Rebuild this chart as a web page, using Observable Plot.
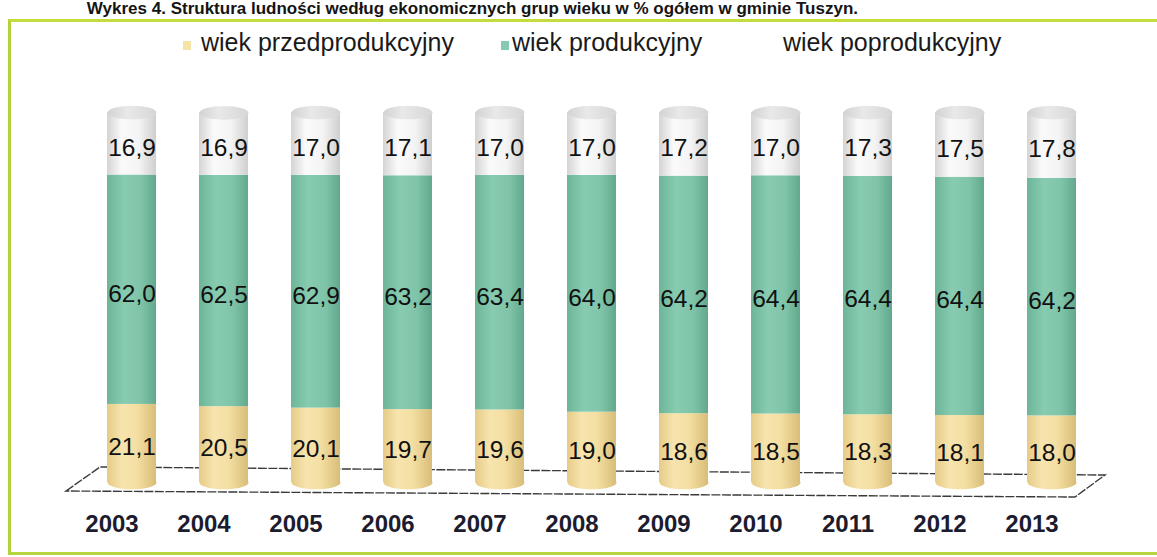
<!DOCTYPE html>
<html>
<head>
<meta charset="utf-8">
<script src="https://cdn.jsdelivr.net/npm/d3@7"></script>
<script src="https://cdn.jsdelivr.net/npm/@observablehq/plot@0.6"></script>
<style>
  html, body { margin: 0; padding: 0; background: #fff; }
  #page { position: relative; width: 1157px; height: 557px; overflow: hidden; background: #fff;
          font-family: "Liberation Sans", Arial, sans-serif; }
  #title { position: absolute; right: 299px; top: 0px; white-space: nowrap; font-size: 17px; line-height: 17px;
           font-weight: bold; color: #151515; }
  #frame { position: absolute; left: 8px; top: 19px; width: 1170px; height: 530px;
           border-left: 3px solid #b2d23a; border-top: 3px solid #c4dc3c; border-bottom: 3px solid #b6d640; }
  .leg { position: absolute; top: 30px; font-size: 25px; line-height: 25px; color: #1a1a1a; white-space: nowrap; }
  .sw { position: absolute; top: 41px; width: 8px; height: 9px; }
  #chart { position: absolute; left: 0; top: 70px; }
</style>
</head>
<body>
<div id="page">
  <div id="title"></div>
  <div id="frame"></div>
  <div id="legend"></div>
  <div id="chart"></div>
</div>
<script>
// ---- data ----
const years = ["2003","2004","2005","2006","2007","2008","2009","2010","2011","2012","2013"];
const groups = ["wiek przedprodukcyjny", "wiek produkcyjny", "wiek poprodukcyjny"];
const przedprodukcyjny = [21.1, 20.5, 20.1, 19.7, 19.6, 19.0, 18.6, 18.5, 18.3, 18.1, 18.0];
const produkcyjny      = [62.0, 62.5, 62.9, 63.2, 63.4, 64.0, 64.2, 64.4, 64.4, 64.4, 64.2];
const poprodukcyjny    = [16.9, 16.9, 17.0, 17.1, 17.0, 17.0, 17.2, 17.0, 17.3, 17.5, 17.8];
const titleText = "Wykres 4. Struktura ludności według ekonomicznych grup wieku w % ogółem w gminie Tuszyn.";

// ---- styles ----
const swatchColors = ["#f6e3a8", "#86cab2", "#ffffff"];
const legendLeft = [[183, 201], [501, 512], [770, 783]];

const series = [przedprodukcyjny, produkcyjny, poprodukcyjny];
const data = years.flatMap((year, i) => groups.map((group, j) => ({year, group, value: series[j][i]})));
const totals = years.map((year, i) => ({year, total: d3.sum(series, s => s[i])}));
const fmt = v => v.toFixed(1).replace(".", ",");

document.getElementById("title").textContent = titleText;

const legend = document.getElementById("legend");
groups.forEach((g, j) => {
  const sw = document.createElement("div");
  sw.className = "sw";
  sw.style.left = legendLeft[j][0] + "px";
  sw.style.background = swatchColors[j];
  legend.appendChild(sw);
  const t = document.createElement("div");
  t.className = "leg";
  t.style.left = legendLeft[j][1] + "px";
  t.textContent = g;
  legend.appendChild(t);
});

// ellipse symbol for cylinder caps
const ellipse = {
  draw(context, size) {
    const rx = Math.sqrt(size / Math.PI), ry = rx * 0.28, k = 0.5523;
    context.moveTo(rx, 0);
    context.bezierCurveTo(rx, ry * k, rx * k, ry, 0, ry);
    context.bezierCurveTo(-rx * k, ry, -rx, ry * k, -rx, 0);
    context.bezierCurveTo(-rx, -ry * k, -rx * k, -ry, 0, -ry);
    context.bezierCurveTo(rx * k, -ry, rx, -ry * k, rx, 0);
    context.closePath();
  }
};

// floor (3D base plane) derived from scales
function floor(index, scales, values, dimensions) {
  const y0 = scales.y(0);
  const xl = dimensions.marginLeft, xr = dimensions.width - dimensions.marginRight;
  const pts = [[xl + 7, y0 + 9], [xl + 41, y0 - 15], [xr - 18, y0 - 7], [xr - 48, y0 + 15]];
  const g = d3.create("svg:g");
  g.append("path")
    .attr("d", "M" + pts.map(p => p.join(",")).join("L") + "Z")
    .attr("fill", "none")
    .attr("stroke", "#3a3a3a")
    .attr("stroke-width", 1.4)
    .attr("stroke-dasharray", "9 1.5");
  return g.node();
}

const chart = Plot.plot({
  width: 1157,
  height: 475,
  marginLeft: 59,
  marginRight: 34,
  marginTop: 42,
  marginBottom: 63,
  style: {fontFamily: "'Liberation Sans', Arial, sans-serif", fontSize: "24px", fontWeight: "bold", color: "#1c1c2e", background: "transparent"},
  x: {domain: years, padding: 0.472, tickSize: 0, tickPadding: 32, label: null},
  y: {domain: [0, 100], axis: null},
  color: {domain: groups, range: ["url(#gPrzed)", "url(#gProd)", "url(#gPost)"]},
  marks: [
    floor,
    Plot.dot(years, {x: d => d, y: () => 0, symbol: ellipse, r: 24.5, fill: "url(#gPrzed)"}),
    Plot.barY(data, {x: "year", y: "value", fill: "group"}),
    Plot.dot(totals, {x: "year", y: "total", symbol: ellipse, r: 24.5, fill: "url(#gTop)"}),
    Plot.text(data, Plot.stackY({x: "year", y: "value", text: d => fmt(d.value), fontSize: 24.5, fontWeight: "normal", fill: "#111", dy: 4})),
    Plot.axisX({tickSize: 0, tickPadding: 32, dx: -20, label: null})
  ]
});

const defs = d3.select(chart).insert("defs", ":first-child");
function grad(id, stops) {
  const lg = defs.append("linearGradient").attr("id", id).attr("x1", 0).attr("x2", 1).attr("y1", 0).attr("y2", 0);
  stops.forEach(([o, c]) => lg.append("stop").attr("offset", o).attr("stop-color", c));
}
grad("gPrzed", [[0, "#e6cb86"], [0.3, "#f7e4ae"], [0.6, "#f4dfa3"], [1, "#d9bd78"]]);
grad("gProd",  [[0, "#6db598"], [0.35, "#87ccb1"], [0.7, "#7fc4a9"], [1, "#62a88d"]]);
grad("gPost",  [[0, "#d4d4d4"], [0.3, "#fafafa"], [0.65, "#f4f4f4"], [1, "#cfcfcf"]]);
grad("gTop",   [[0, "#d2d2d2"], [0.4, "#e9e9e9"], [1, "#d6d6d6"]]);

document.getElementById("chart").appendChild(chart);
</script>
</body>
</html>
